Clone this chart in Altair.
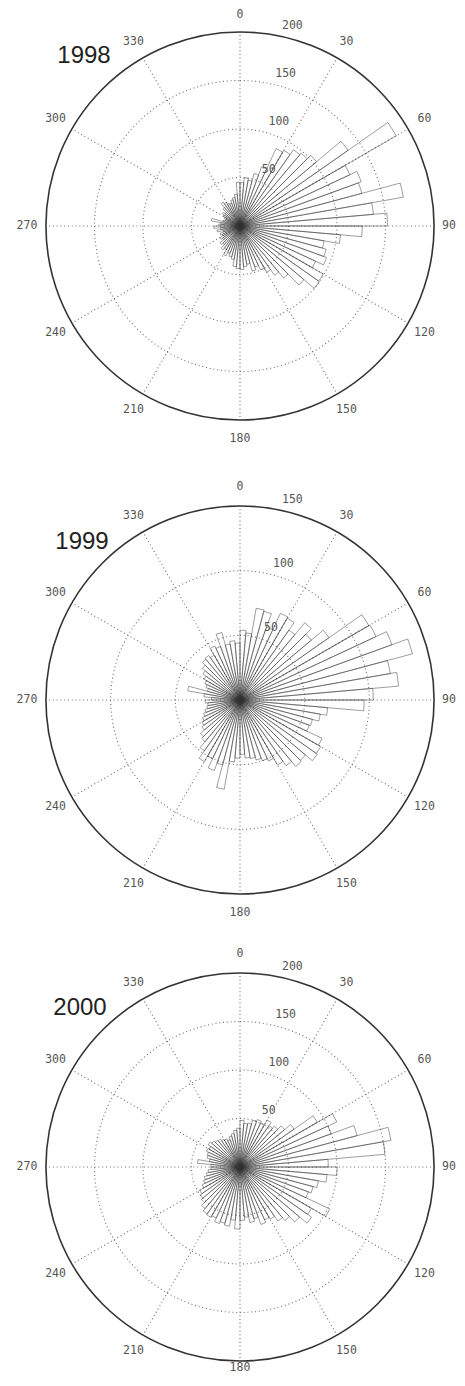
import math
import altair as alt
import pandas as pd

# ---------------- data ----------------
YEARS = ["1998", "1999", "2000"]
RMAX = [200, 150, 200]                       # value at the outer circle
RINGS = [[50, 100, 150], [50, 100], [50, 100, 150]]
RING_LABELS = [[50, 100, 150, 200], [50, 100, 150], [50, 100, 150, 200]]
BIN_WIDTH = 5                                # degrees per bar
ANGLE_TICKS = list(range(0, 360, 30))

# counts per 5-degree bin, starting at 0-5 and going clockwise
counts_1998 = [
    45, 50, 48, 56, 65, 88, 90, 96, 98, 103, 136, 186, 125, 133, 130, 171, 138, 152,
    126, 104, 88, 92, 95, 86, 99, 100, 86, 70, 62, 55, 50, 45, 48, 40, 42, 45,
    44, 42, 35, 33, 30, 34, 28, 30, 25, 27, 22, 24, 20, 22, 18, 24, 20, 27,
    22, 20, 30, 18, 16, 18, 20, 22, 20, 25, 30, 28, 26, 25, 28, 30, 33, 45,
]
counts_1999 = [
    54, 52, 72, 71, 60, 74, 73, 66, 78, 72, 84, 115, 116, 125, 138, 118, 123, 103,
    96, 68, 63, 58, 57, 70, 72, 73, 66, 67, 62, 58, 52, 50, 48, 46, 45, 42,
    45, 48, 70, 52, 58, 50, 55, 48, 42, 40, 36, 34, 32, 30, 28, 26, 25, 27,
    22, 28, 41, 26, 28, 30, 32, 35, 38, 41, 42, 40, 46, 44, 54, 44, 46, 44,
]
counts_2000 = [
    48, 45, 46, 50, 52, 50, 56, 52, 55, 60, 68, 92, 110, 100, 125, 158, 150, 91,
    100, 90, 82, 78, 75, 102, 85, 90, 80, 72, 68, 62, 60, 63, 55, 58, 52, 55,
    64, 55, 62, 60, 62, 58, 60, 59, 56, 52, 50, 48, 43, 40, 38, 35, 33, 30,
    30, 44, 32, 35, 36, 38, 37, 40, 38, 36, 35, 33, 32, 30, 33, 35, 38, 40,
]
COUNTS = [counts_1998, counts_1999, counts_2000]

# ---------------- layout (pixels) ----------------
PANEL_W = 449
PANEL_H = [454, 472, 441]
CENTER_X = 232
CENTER_Y = [218, 238, 233]
R_PX = 194                 # outer circle radius
LABEL_R = 1.098            # angle labels, as a fraction of the outer radius
LABEL_PAD_X = 8            # keep angle labels inside the panel (px)
LABEL_PAD_Y = 7
YEAR_OFFSET = [(-156, -170), (-158, -158), (-160, -159)]  # px from centre (screen)

GRID = "#6e6e6e"
DASH = [1, 2.8]
TEXT = "#555555"
MONO = "DejaVu Sans Mono"


def panel(i):
    rmax = RMAX[i]
    k = R_PX / rmax
    W, H = PANEL_W, PANEL_H[i]
    cx, cy = CENTER_X, CENTER_Y[i]
    x_lo, x_hi = -cx / k, (W - cx) / k
    y_lo, y_hi = -(H - cy) / k, cy / k
    xs = alt.Scale(domain=[x_lo, x_hi], nice=False, zero=False)
    ys = alt.Scale(domain=[y_lo, y_hi], nice=False, zero=False)
    rs = alt.Scale(type="linear", domain=[0, rmax], range=[0, R_PX], zero=True, nice=False)
    ts = alt.Scale(domain=[0, 360], range=[0, 2 * math.pi])

    XC = alt.X("ox:Q", scale=xs, axis=None)
    YC = alt.Y("oy:Q", scale=ys, axis=None)

    counts = COUNTS[i]
    n = len(counts)
    bars_df = pd.DataFrame({
        "a0": [j * BIN_WIDTH for j in range(n)],
        "a1": [(j + 1) * BIN_WIDTH for j in range(n)],
        "v": counts,
        "ox": [0] * n, "oy": [0] * n,
    })
    rings_df = pd.DataFrame({"v": RINGS[i], "a0": 0, "a1": 360, "ox": 0, "oy": 0})
    outer_df = pd.DataFrame({"v": [rmax], "a0": [0], "a1": [360], "ox": [0], "oy": [0]})
    spokes_df = pd.DataFrame({"ang": ANGLE_TICKS, "label": [str(a) for a in ANGLE_TICKS],
                              "ox": 0, "oy": 0})
    rlab_df = pd.DataFrame({"v": RING_LABELS[i], "label": [str(v) for v in RING_LABELS[i]]})
    year_df = pd.DataFrame({
        "x": [YEAR_OFFSET[i][0] / k], "y": [-YEAR_OFFSET[i][1] / k], "label": [YEARS[i]]
    })

    theta = alt.Theta("a0:Q", scale=ts, stack=None)
    theta2 = alt.Theta2("a1:Q")
    radius = alt.Radius("v:Q", scale=rs)

    rings = alt.Chart(rings_df).mark_arc(
        filled=False, stroke=GRID, strokeWidth=1.1, strokeDash=DASH
    ).encode(x=XC, y=YC, theta=theta, theta2=theta2, radius=radius)

    spokes = alt.Chart(spokes_df).transform_calculate(
        ex=f"{rmax} * sin(datum.ang * PI / 180)",
        ey=f"{rmax} * cos(datum.ang * PI / 180)",
    ).mark_rule(stroke=GRID, strokeWidth=1.1, strokeDash=DASH).encode(
        x=XC, y=YC, x2=alt.X2("ex:Q"), y2=alt.Y2("ey:Q")
    )

    bars = alt.Chart(bars_df).mark_arc(
        filled=False, stroke="#333333", strokeOpacity=0.5, strokeWidth=0.95
    ).encode(x=XC, y=YC, theta=theta, theta2=theta2, radius=radius)

    outer = alt.Chart(outer_df).mark_arc(
        filled=False, stroke="#333333", strokeWidth=1.6
    ).encode(x=XC, y=YC, theta=theta, theta2=theta2, radius=radius)

    L = rmax * LABEL_R
    ang_labels = alt.Chart(spokes_df).transform_calculate(
        lx=(f"clamp({L} * sin(datum.ang * PI / 180), {x_lo + LABEL_PAD_X * 1.5 / k}, "
            f"{x_hi - LABEL_PAD_X / k})"),
        ly=(f"clamp({L} * cos(datum.ang * PI / 180), {y_lo + LABEL_PAD_Y / k}, "
            f"{y_hi - LABEL_PAD_Y / k})"),
    ).mark_text(font=MONO, fontSize=11.5, color=TEXT, align="center",
                baseline="middle").encode(
        x=alt.X("lx:Q", scale=xs, axis=None),
        y=alt.Y("ly:Q", scale=ys, axis=None),
        text="label:N",
    )

    r_labels = alt.Chart(rlab_df).transform_calculate(
        rx="datum.v * sin(8 * PI / 180)",
        ry="datum.v * cos(8 * PI / 180)",
    ).mark_text(font=MONO, fontSize=11.5, color=TEXT, align="left", baseline="middle",
                dx=15, dy=-8).encode(
        x=alt.X("rx:Q", scale=xs, axis=None),
        y=alt.Y("ry:Q", scale=ys, axis=None),
        text="label:N",
    )

    year = alt.Chart(year_df).mark_text(
        font="Liberation Sans", fontSize=24, color="#222222", align="center", baseline="middle"
    ).encode(
        x=alt.X("x:Q", scale=xs, axis=None),
        y=alt.Y("y:Q", scale=ys, axis=None),
        text="label:N",
    )

    return alt.layer(rings, spokes, bars, outer, ang_labels, r_labels, year).properties(
        width=W, height=H
    )


chart = alt.vconcat(panel(0), panel(1), panel(2), spacing=0).properties(
    padding=0, background="white"
).configure_view(stroke=None)

chart.save("out.html", embed_options={"renderer": "svg", "actions": False})
